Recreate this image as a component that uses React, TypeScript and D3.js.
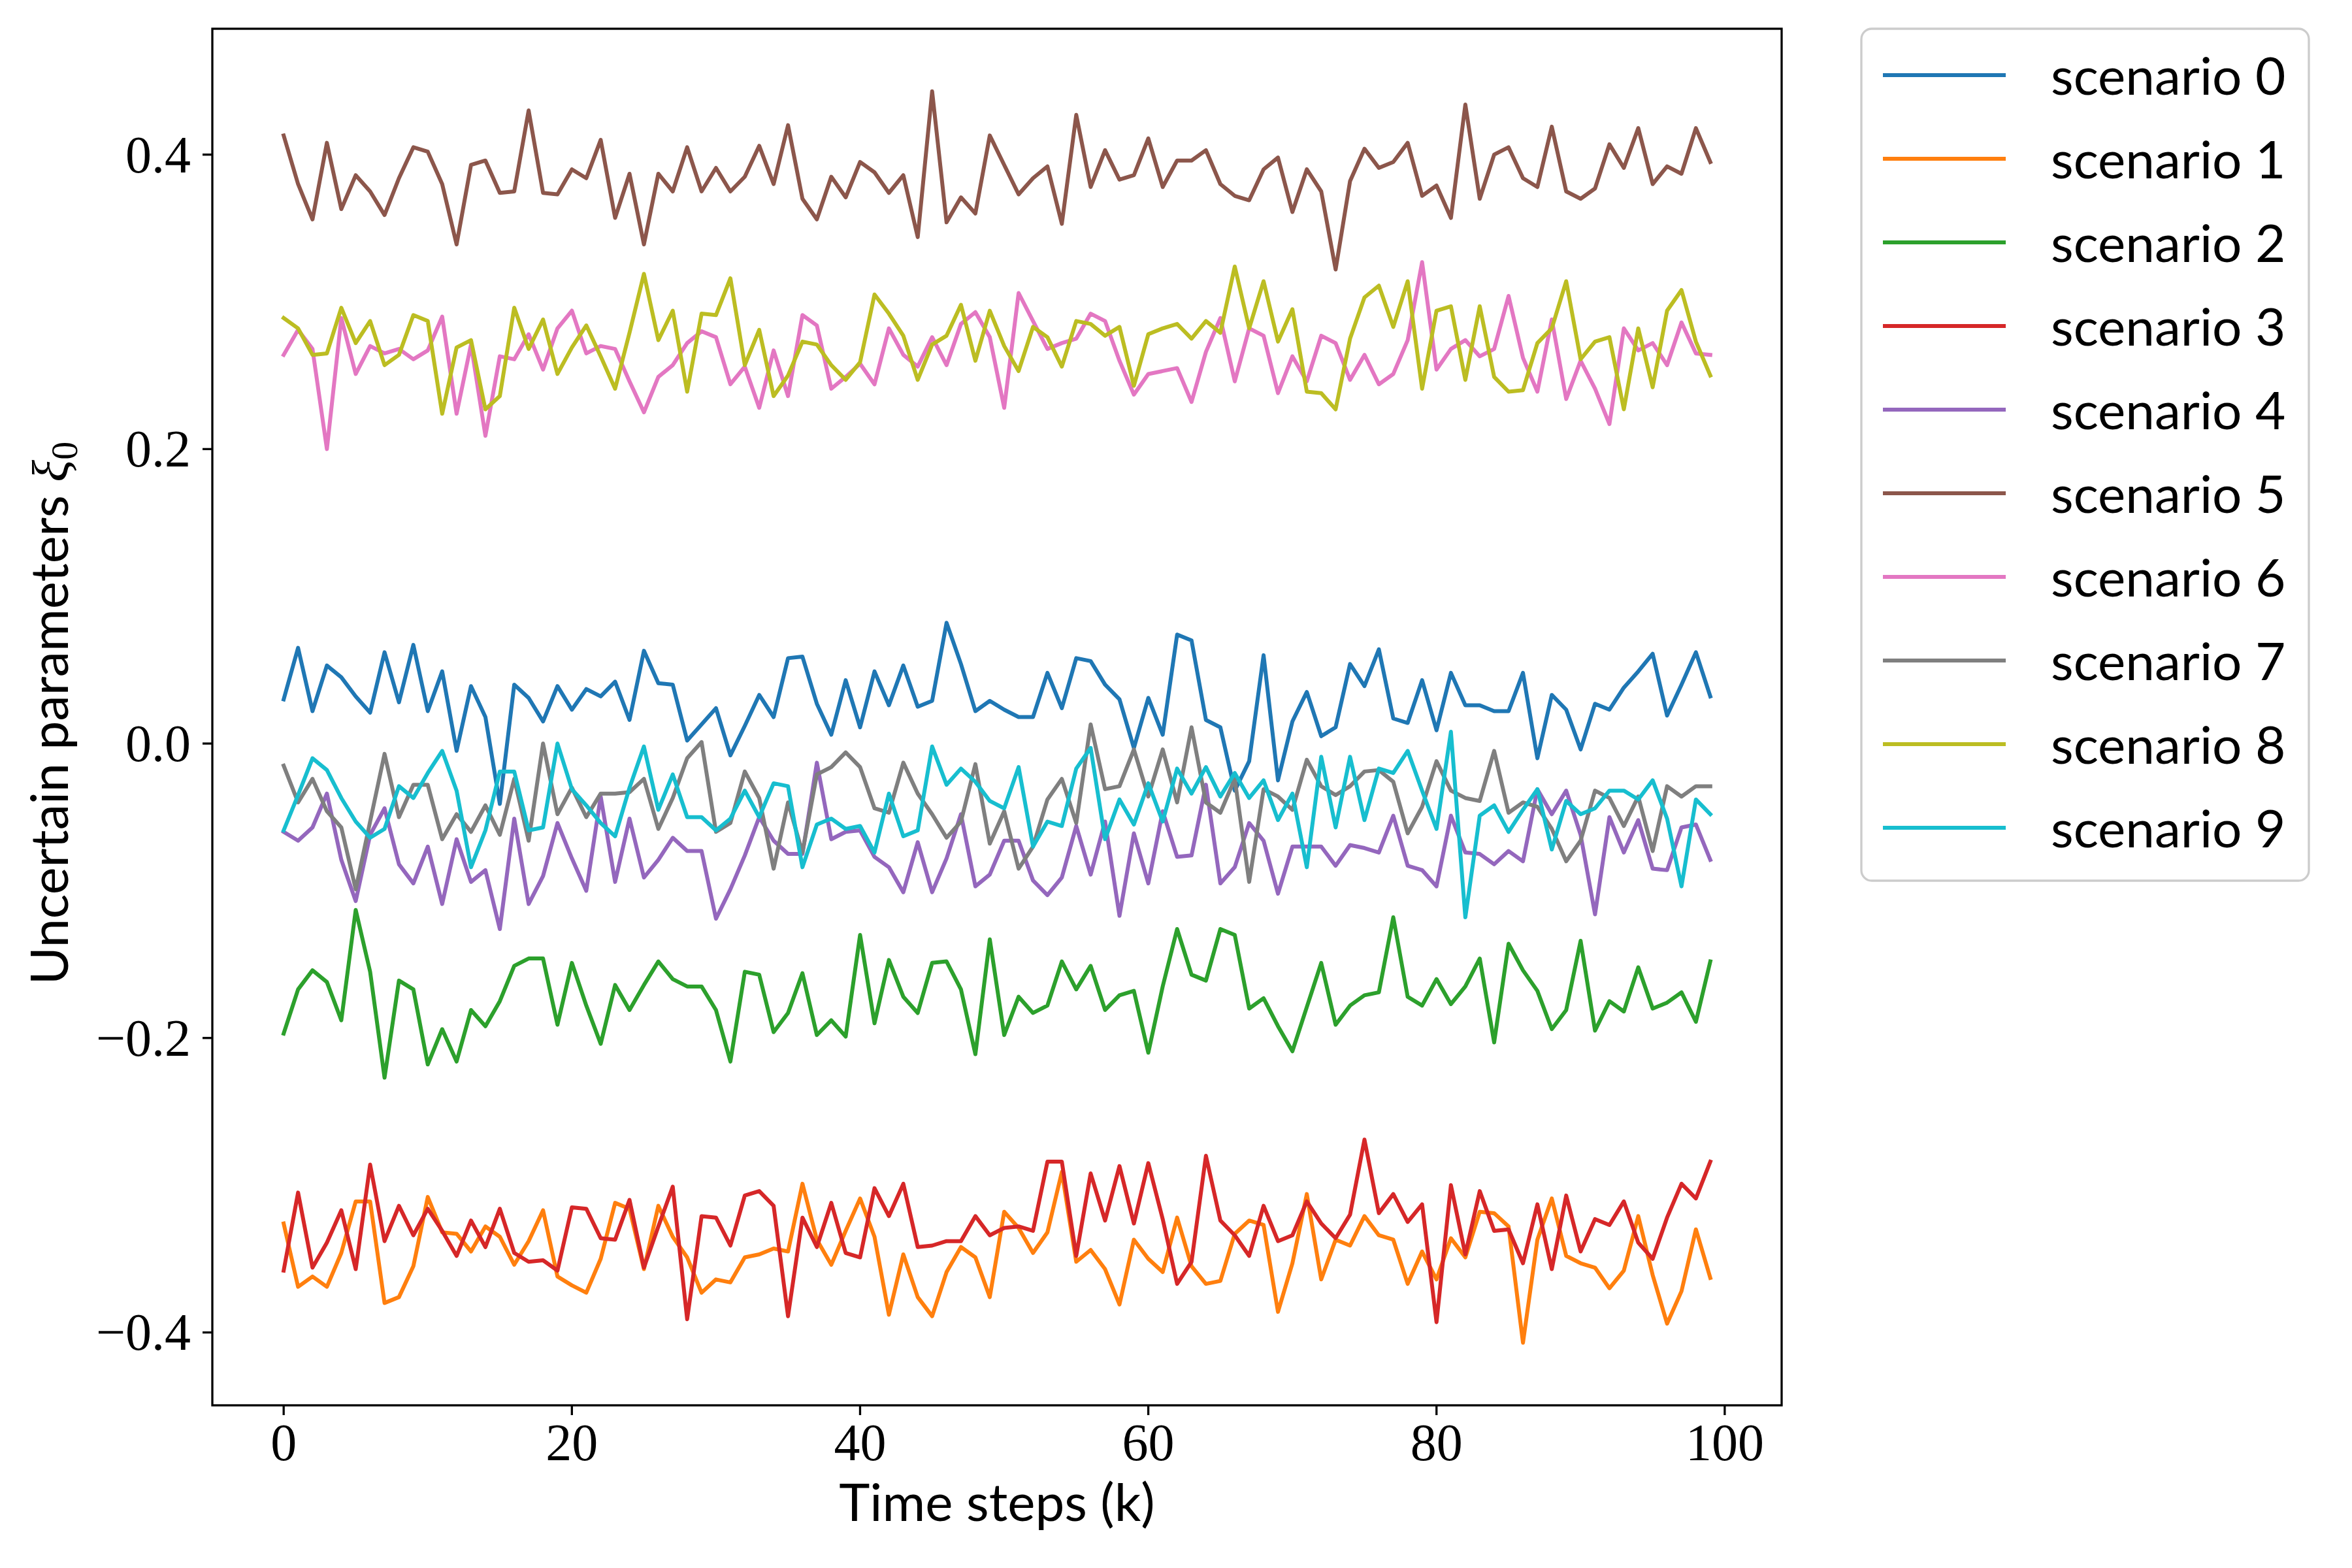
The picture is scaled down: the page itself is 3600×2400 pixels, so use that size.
import React from "react";
import * as d3 from "d3";

const steps = d3.range(100);

const scenario0 = [0.030, 0.065, 0.022, 0.053, 0.045, 0.032, 0.021, 0.062, 0.028, 0.067, 0.022, 0.049, -0.005, 0.039, 0.018, -0.041, 0.040, 0.031, 0.015, 0.039, 0.023, 0.037, 0.032, 0.042, 0.016, 0.063, 0.041, 0.040, 0.002, 0.013, 0.024, -0.008, 0.012, 0.033, 0.018,
  0.058, 0.059, 0.027, 0.006, 0.043, 0.011, 0.049, 0.026, 0.053, 0.025, 0.029, 0.082, 0.054, 0.022, 0.029, 0.023, 0.018, 0.018, 0.048, 0.024, 0.058, 0.056, 0.040, 0.030, -0.003, 0.031, 0.006, 0.074, 0.070, 0.016, 0.011, -0.032, -0.012,
  0.060, -0.025, 0.015, 0.035, 0.005, 0.011, 0.054, 0.039, 0.064, 0.017, 0.014, 0.043, 0.009, 0.048, 0.026, 0.026, 0.022, 0.022, 0.048, -0.010, 0.033, 0.023, -0.004, 0.027, 0.023, 0.038, 0.049, 0.061, 0.019, 0.040, 0.062, 0.032];

const scenario1 = [-0.326, -0.369, -0.362, -0.369, -0.346, -0.311, -0.311, -0.380, -0.376, -0.355, -0.308, -0.332, -0.333, -0.345, -0.328, -0.335, -0.354, -0.338, -0.317, -0.362, -0.368, -0.373, -0.350, -0.312, -0.316, -0.357, -0.314, -0.335, -0.349, -0.373, -0.364, -0.366, -0.349, -0.347, -0.343,
  -0.345, -0.299, -0.337, -0.354, -0.331, -0.309, -0.335, -0.388, -0.347, -0.376, -0.389, -0.359, -0.342, -0.349, -0.376, -0.318, -0.329, -0.346, -0.332, -0.291, -0.352, -0.344, -0.357, -0.381, -0.337, -0.350, -0.359, -0.322, -0.355, -0.367, -0.365, -0.333, -0.324,
  -0.327, -0.386, -0.353, -0.306, -0.364, -0.337, -0.341, -0.321, -0.334, -0.337, -0.367, -0.345, -0.364, -0.336, -0.349, -0.318, -0.319, -0.328, -0.407, -0.337, -0.309, -0.348, -0.353, -0.356, -0.370, -0.358, -0.321, -0.361, -0.394, -0.372, -0.330, -0.363];

const scenario2 = [-0.197, -0.167, -0.154, -0.162, -0.188, -0.113, -0.155, -0.227, -0.161, -0.167, -0.218, -0.194, -0.216, -0.181, -0.192, -0.175, -0.151, -0.146, -0.146, -0.191, -0.149, -0.178, -0.204, -0.164, -0.181, -0.164, -0.148, -0.160, -0.165, -0.165, -0.181, -0.216, -0.155, -0.157, -0.196,
  -0.183, -0.156, -0.198, -0.188, -0.199, -0.130, -0.190, -0.147, -0.172, -0.183, -0.149, -0.148, -0.167, -0.211, -0.133, -0.198, -0.172, -0.183, -0.178, -0.148, -0.167, -0.151, -0.181, -0.171, -0.168, -0.210, -0.165, -0.126, -0.157, -0.161, -0.126, -0.130, -0.180,
  -0.173, -0.192, -0.209, -0.179, -0.149, -0.191, -0.178, -0.171, -0.169, -0.118, -0.172, -0.178, -0.160, -0.177, -0.165, -0.146, -0.203, -0.136, -0.154, -0.168, -0.194, -0.181, -0.134, -0.195, -0.175, -0.182, -0.152, -0.180, -0.176, -0.169, -0.189, -0.148];

const scenario3 = [-0.358, -0.305, -0.356, -0.339, -0.317, -0.357, -0.286, -0.338, -0.314, -0.334, -0.316, -0.331, -0.348, -0.324, -0.342, -0.316, -0.346, -0.352, -0.351, -0.358, -0.315, -0.316, -0.336, -0.337, -0.310, -0.356, -0.328, -0.301, -0.391, -0.321, -0.322, -0.341, -0.307, -0.304, -0.314,
  -0.389, -0.322, -0.342, -0.312, -0.346, -0.349, -0.302, -0.321, -0.299, -0.342, -0.341, -0.338, -0.338, -0.321, -0.334, -0.329, -0.328, -0.331, -0.284, -0.284, -0.348, -0.292, -0.324, -0.287, -0.326, -0.285, -0.323, -0.367, -0.352, -0.280, -0.324, -0.334, -0.348,
  -0.314, -0.338, -0.334, -0.311, -0.326, -0.336, -0.320, -0.269, -0.319, -0.306, -0.325, -0.313, -0.393, -0.300, -0.347, -0.304, -0.331, -0.330, -0.353, -0.313, -0.357, -0.307, -0.345, -0.323, -0.327, -0.311, -0.339, -0.350, -0.322, -0.299, -0.309, -0.284];

const scenario4 = [-0.060, -0.066, -0.057, -0.034, -0.079, -0.107, -0.062, -0.044, -0.082, -0.095, -0.070, -0.109, -0.065, -0.094, -0.086, -0.126, -0.051, -0.109, -0.090, -0.054, -0.078, -0.100, -0.036, -0.094, -0.051, -0.091, -0.079, -0.064, -0.073, -0.073, -0.119, -0.099, -0.076, -0.050, -0.066,
  -0.075, -0.075, -0.013, -0.065, -0.060, -0.059, -0.077, -0.084, -0.101, -0.067, -0.101, -0.078, -0.048, -0.097, -0.089, -0.066, -0.066, -0.093, -0.103, -0.091, -0.056, -0.089, -0.053, -0.117, -0.061, -0.095, -0.046, -0.077, -0.076, -0.028, -0.095, -0.084, -0.054,
  -0.066, -0.102, -0.070, -0.070, -0.070, -0.083, -0.069, -0.071, -0.074, -0.049, -0.083, -0.086, -0.097, -0.049, -0.074, -0.075, -0.082, -0.073, -0.080, -0.031, -0.048, -0.032, -0.062, -0.116, -0.050, -0.074, -0.052, -0.085, -0.086, -0.057, -0.055, -0.079];

const scenario5 = [0.413, 0.380, 0.356, 0.408, 0.363, 0.386, 0.375, 0.359, 0.384, 0.405, 0.402, 0.380, 0.339, 0.393, 0.396, 0.374, 0.375, 0.430, 0.374, 0.373, 0.390, 0.384, 0.410, 0.357, 0.387, 0.339, 0.387, 0.375, 0.405, 0.375, 0.391, 0.375, 0.385, 0.406, 0.380,
  0.420, 0.370, 0.356, 0.385, 0.371, 0.395, 0.388, 0.374, 0.386, 0.344, 0.443, 0.354, 0.371, 0.360, 0.413, 0.393, 0.373, 0.384, 0.392, 0.353, 0.427, 0.378, 0.403, 0.383, 0.386, 0.411, 0.378, 0.396, 0.396, 0.403, 0.380, 0.372, 0.369,
  0.390, 0.398, 0.361, 0.390, 0.375, 0.322, 0.382, 0.404, 0.391, 0.395, 0.408, 0.372, 0.379, 0.357, 0.434, 0.370, 0.400, 0.405, 0.384, 0.378, 0.419, 0.375, 0.370, 0.377, 0.407, 0.391, 0.418, 0.380, 0.392, 0.387, 0.418, 0.395];

const scenario6 = [0.264, 0.281, 0.268, 0.200, 0.289, 0.251, 0.270, 0.265, 0.268, 0.261, 0.267, 0.290, 0.224, 0.271, 0.209, 0.263, 0.261, 0.278, 0.254, 0.282, 0.294, 0.265, 0.270, 0.268, 0.246, 0.225, 0.249, 0.257, 0.272, 0.280, 0.276, 0.244, 0.256, 0.228, 0.267,
  0.236, 0.291, 0.284, 0.241, 0.249, 0.258, 0.244, 0.282, 0.264, 0.256, 0.276, 0.257, 0.285, 0.293, 0.276, 0.228, 0.306, 0.287, 0.268, 0.272, 0.275, 0.292, 0.287, 0.260, 0.237, 0.251, 0.253, 0.255, 0.232, 0.266, 0.289, 0.246, 0.282,
  0.277, 0.238, 0.263, 0.246, 0.277, 0.272, 0.247, 0.264, 0.244, 0.251, 0.274, 0.327, 0.254, 0.268, 0.274, 0.263, 0.268, 0.304, 0.262, 0.239, 0.288, 0.234, 0.260, 0.241, 0.217, 0.282, 0.267, 0.272, 0.257, 0.286, 0.265, 0.264];

const scenario7 = [-0.015, -0.040, -0.024, -0.046, -0.057, -0.099, -0.053, -0.007, -0.050, -0.028, -0.028, -0.065, -0.048, -0.060, -0.042, -0.062, -0.024, -0.066, 0.000, -0.048, -0.030, -0.050, -0.034, -0.034, -0.033, -0.024, -0.058, -0.037, -0.010, 0.001, -0.060, -0.054, -0.019, -0.037, -0.085,
  -0.040, -0.074, -0.021, -0.016, -0.006, -0.016, -0.044, -0.047, -0.013, -0.034, -0.048, -0.064, -0.053, -0.014, -0.068, -0.046, -0.085, -0.070, -0.038, -0.024, -0.054, 0.013, -0.031, -0.029, -0.004, -0.036, -0.004, -0.040, 0.011, -0.040, -0.047, -0.024, -0.094,
  -0.031, -0.036, -0.045, -0.011, -0.029, -0.035, -0.029, -0.019, -0.018, -0.026, -0.061, -0.043, -0.012, -0.032, -0.037, -0.039, -0.005, -0.047, -0.040, -0.043, -0.058, -0.080, -0.066, -0.032, -0.037, -0.056, -0.036, -0.073, -0.029, -0.036, -0.029, -0.029];

const scenario8 = [0.289, 0.282, 0.264, 0.265, 0.296, 0.272, 0.287, 0.257, 0.264, 0.291, 0.287, 0.224, 0.269, 0.274, 0.227, 0.236, 0.296, 0.268, 0.288, 0.251, 0.269, 0.284, 0.263, 0.241, 0.279, 0.319, 0.274, 0.294, 0.239, 0.292, 0.291, 0.316, 0.257, 0.281, 0.236,
  0.250, 0.273, 0.271, 0.257, 0.247, 0.259, 0.305, 0.292, 0.277, 0.247, 0.271, 0.277, 0.298, 0.260, 0.294, 0.270, 0.253, 0.283, 0.276, 0.256, 0.287, 0.285, 0.277, 0.283, 0.243, 0.278, 0.282, 0.285, 0.275, 0.287, 0.279, 0.324, 0.282,
  0.314, 0.273, 0.295, 0.239, 0.238, 0.227, 0.275, 0.303, 0.311, 0.283, 0.314, 0.241, 0.294, 0.297, 0.247, 0.297, 0.249, 0.239, 0.240, 0.272, 0.282, 0.314, 0.261, 0.273, 0.276, 0.227, 0.282, 0.242, 0.294, 0.308, 0.273, 0.250];

const scenario9 = [-0.059, -0.035, -0.010, -0.018, -0.037, -0.053, -0.064, -0.058, -0.029, -0.037, -0.020, -0.005, -0.032, -0.084, -0.059, -0.019, -0.019, -0.059, -0.057, 0.000, -0.031, -0.042, -0.054, -0.063, -0.030, -0.002, -0.045, -0.021, -0.050, -0.050, -0.059, -0.051, -0.032, -0.050, -0.027,
  -0.029, -0.084, -0.055, -0.051, -0.058, -0.056, -0.074, -0.034, -0.063, -0.059, -0.002, -0.028, -0.017, -0.026, -0.039, -0.044, -0.016, -0.070, -0.053, -0.056, -0.017, -0.003, -0.065, -0.038, -0.055, -0.027, -0.053, -0.017, -0.034, -0.016, -0.036, -0.020, -0.037,
  -0.025, -0.052, -0.034, -0.084, -0.009, -0.057, -0.009, -0.052, -0.017, -0.020, -0.005, -0.032, -0.058, 0.008, -0.118, -0.049, -0.042, -0.060, -0.045, -0.031, -0.072, -0.039, -0.048, -0.044, -0.032, -0.032, -0.038, -0.025, -0.051, -0.097, -0.038, -0.048];

const seriesValues = [scenario0, scenario1, scenario2, scenario3, scenario4, scenario5, scenario6, scenario7, scenario8, scenario9];
const seriesNames = ["scenario 0", "scenario 1", "scenario 2", "scenario 3", "scenario 4", "scenario 5", "scenario 6", "scenario 7", "scenario 8", "scenario 9"];
const seriesColors = ["#1f77b4", "#ff7f0e", "#2ca02c", "#d62728", "#9467bd", "#8c564b", "#e377c2", "#7f7f7f", "#bcbd22", "#17becf"];

const xTicks = [0, 20, 40, 60, 80, 100];
const yTicks = [-0.4, -0.2, 0.0, 0.2, 0.4];
const yTickLabels = ["\u22120.4", "\u22120.2", "0.0", "0.2", "0.4"];

const W = 3600;
const H = 2400;
const plot = { left: 325, right: 2727, top: 44, bottom: 2151 };
const SANS = "Lato, 'DejaVu Sans', sans-serif";
const SERIF = "'Liberation Serif', 'DejaVu Serif', serif";

export default function App() {
  const xMin = 0, xMax = steps.length - 1;
  const xPad = (xMax - xMin) * 0.05;
  const x = d3.scaleLinear().domain([xMin - xPad, xMax + xPad]).range([plot.left, plot.right]);

  const all = seriesValues.flat();
  const yLo = d3.min(all) as number;
  const yHi = d3.max(all) as number;
  const yPad = (yHi - yLo) * 0.05;
  const y = d3.scaleLinear().domain([yLo - yPad, yHi + yPad]).range([plot.bottom, plot.top]);

  const line = d3.line<number>().x((_, i) => x(steps[i])).y((d) => y(d));

  const tickLen = 15;
  const tickFont = 80;
  const lw = 6;

  const legend = { x: 2849, y: 44, w: 685, h: 1304, row0: 115, pitch: 128, hx0: 2882, hx1: 3070, tx: 3139 };

  return (
    <svg width={W} height={H} style={{ position: "absolute", left: 0, top: 0, background: "#fff" }}>
      <rect x={0} y={0} width={W} height={H} fill="#fff" />
      <g>
        {seriesValues.map((vals, s) => (
          <path key={s} d={line(vals) || ""} fill="none" stroke={seriesColors[s]} strokeWidth={lw}
            strokeLinejoin="round" strokeLinecap="square" />
        ))}
      </g>
      <rect x={plot.left} y={plot.top} width={plot.right - plot.left} height={plot.bottom - plot.top}
        fill="none" stroke="#000" strokeWidth={3.3} />
      {xTicks.map((t) => (
        <g key={"x" + t}>
          <line x1={x(t)} x2={x(t)} y1={plot.bottom} y2={plot.bottom + tickLen} stroke="#000" strokeWidth={3.3} />
          <text x={x(t)} y={plot.bottom + 84} textAnchor="middle" fontFamily={SERIF} fontSize={tickFont} fill="#000">{t}</text>
        </g>
      ))}
      {yTicks.map((t, i) => (
        <g key={"y" + t}>
          <line x1={plot.left - tickLen} x2={plot.left} y1={y(t)} y2={y(t)} stroke="#000" strokeWidth={3.3} />
          <text x={plot.left - tickLen - 18} y={y(t) + 27} textAnchor="end" fontFamily={SERIF} fontSize={tickFont} fill="#000">{yTickLabels[i]}</text>
        </g>
      ))}
      <text x={(plot.left + plot.right) / 2} y={2328} textAnchor="middle" fontFamily={SANS} fontSize={80} fill="#000">Time steps (k)</text>
      <text transform={`translate(104,${(plot.top + plot.bottom) / 2 - 6}) rotate(-90)`} textAnchor="middle" fontFamily={SANS} fontSize={79} fill="#000">
        Uncertain parameters <tspan fontFamily={SERIF} fontStyle="italic">ξ</tspan><tspan fontFamily={SERIF} fontSize={56} dy={14}>0</tspan>
      </text>
      <rect x={legend.x} y={legend.y} width={legend.w} height={legend.h} rx={16} ry={16}
        fill="#fff" fillOpacity={0.8} stroke="#cccccc" strokeWidth={3.3} />
      {seriesNames.map((name, i) => {
        const cy = legend.row0 + i * legend.pitch;
        return (
          <g key={name}>
            <line x1={legend.hx0} x2={legend.hx1} y1={cy} y2={cy} stroke={seriesColors[i]} strokeWidth={lw} />
            <text x={legend.tx} y={cy + 30} fontFamily={SANS} fontSize={80} fill="#000">{name}</text>
          </g>
        );
      })}
    </svg>
  );
}
